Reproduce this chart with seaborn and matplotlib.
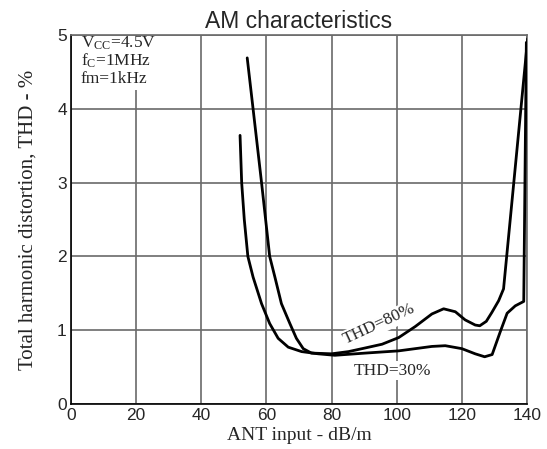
import matplotlib
matplotlib.use("Agg")
import matplotlib.pyplot as plt
import seaborn as sns
import pandas as pd
from matplotlib.patches import Rectangle

# ---- data ----
x_30 = [51.9, 52.4, 53.2, 54.3, 55.9, 58.5, 61.0, 63.6, 66.7, 70.8, 75.9, 81.0,
        90.4, 100.6, 110.8, 114.9, 120.0, 124.1, 127.0, 129.3, 131.8, 133.9,
        136.4, 139.0, 139.8]
y_30 = [3.64, 3.0, 2.5, 2.0, 1.72, 1.36, 1.09, 0.89, 0.77, 0.71, 0.68, 0.66,
        0.69, 0.72, 0.78, 0.79, 0.75, 0.68, 0.64, 0.67, 0.98, 1.23,
        1.33, 1.39, 4.9]

x_80 = [54.1, 55.9, 58.5, 61.0, 62.6, 64.6, 67.2, 69.2, 71.3, 73.8, 80.0, 85.2,
        90.4, 95.5, 100.6, 105.7, 110.8, 114.4, 118.0, 121.0, 124.1, 125.5,
        127.5, 129.2, 131.3, 132.8, 140.2]
y_80 = [4.69, 4.0, 3.0, 2.0, 1.72, 1.36, 1.09, 0.89, 0.75, 0.69, 0.68, 0.71,
        0.76, 0.81, 0.90, 1.05, 1.22, 1.29, 1.25, 1.14, 1.07, 1.06,
        1.12, 1.24, 1.40, 1.56, 4.95]

x_ticks = [0, 20, 40, 60, 80, 100, 120, 140]
y_ticks = [0, 1, 2, 3, 4, 5]

title = "AM characteristics"
xlabel = "ANT input - dB/m"
ylabel = "Total harmonic distortion, THD - %"
cond_lines = [r"V$_{\mathrm{CC}}$=4.5V", r"f$_{\mathrm{C}}$=1MHz", "fm=1kHz"]
label_80 = "THD=80%"
label_30 = "THD=30%"

# ---- style ----
sns.set_style("white")
plt.rcParams["font.family"] = ["Liberation Sans", "DejaVu Sans"]
plt.rcParams["mathtext.fontset"] = "custom"
plt.rcParams["mathtext.rm"] = "Liberation Serif"
plt.rcParams["mathtext.it"] = "Liberation Serif:italic"
plt.rcParams["mathtext.bf"] = "Liberation Serif:bold"

df30 = pd.DataFrame({"x": x_30, "y": y_30})
df80 = pd.DataFrame({"x": x_80, "y": y_80})

fig = plt.figure(figsize=(5.47, 4.49), dpi=100)
ax = fig.add_axes([71/547, 1-404/449, 456/547, 369/449])

sns.lineplot(data=df30, x="x", y="y", sort=False, color="black", lw=2.0, ax=ax, zorder=3)
sns.lineplot(data=df80, x="x", y="y", sort=False, color="black", lw=2.0, ax=ax, zorder=3)

ax.set_xlim(0, 140)
ax.set_ylim(0, 5)
ax.set_xticks(x_ticks)
ax.set_yticks(y_ticks)
ax.set_xticklabels([str(t) for t in x_ticks], fontsize=12.5, family="Liberation Sans")
ax.set_yticklabels([str(t) for t in y_ticks], fontsize=12.5, family="Liberation Sans")
ax.tick_params(axis="x", length=0, pad=3)
ax.tick_params(axis="y", length=0, pad=3)
ax.grid(True, color="#6a6a6a", lw=1.2)
ax.set_axisbelow(True)

for s in ["top", "right"]:
    ax.spines[s].set_color("#6a6a6a")
    ax.spines[s].set_linewidth(1.2)
for s in ["left", "bottom"]:
    ax.spines[s].set_color("black")
    ax.spines[s].set_linewidth(1.2)

ax.set_title(title, fontsize=16.5, family="Liberation Sans", pad=5)
ax.set_xlabel(xlabel, fontsize=14, family="Liberation Serif", labelpad=3)
ax.set_ylabel(ylabel, fontsize=15, family="Liberation Serif", labelpad=14)

# white box behind condition text
ax.add_patch(Rectangle((0.3, 4.25), 27.5, 0.73, facecolor="white", edgecolor="none", zorder=1))
for txt, yy in zip(cond_lines, [4.89, 4.65, 4.41]):
    ax.text(3.0, yy, txt, fontsize=12.5, family="Liberation Serif", va="center", ha="left", zorder=2)

ax.text(94.7, 1.08, label_80, fontsize=12.5, family="Liberation Serif", rotation=25,
        rotation_mode="anchor", ha="center", va="center", zorder=2,
        bbox=dict(facecolor="white", edgecolor="none", pad=1))
ax.text(98.7, 0.45, label_30, fontsize=12.5, family="Liberation Serif",
        ha="center", va="center", zorder=2,
        bbox=dict(facecolor="white", edgecolor="none", pad=1))

fig.savefig("out.png", dpi=100)
